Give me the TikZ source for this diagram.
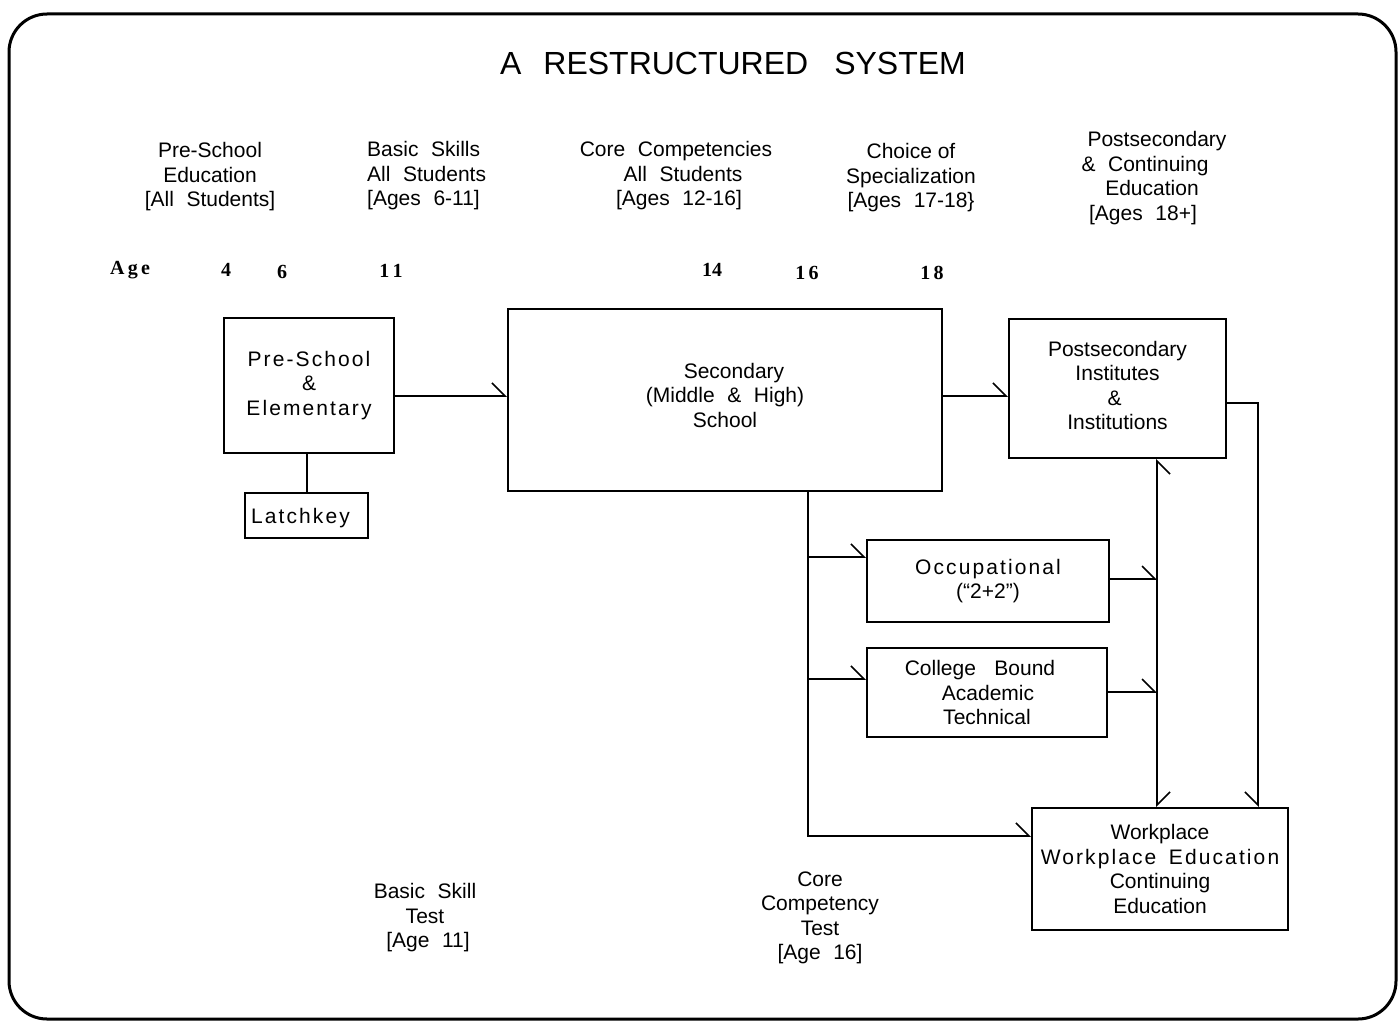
\documentclass[tikz,border=0pt]{standalone}
\usepackage{fontspec}
\setmainfont{Liberation Sans}
\newfontfamily\agefont{Liberation Serif}
\newfontfamily\spacedfont[LetterSpace=10]{Liberation Sans}
\usetikzlibrary{arrows.meta}
\newcommand\wsp{\hspace{0.6em}}
\begin{document}
\begin{tikzpicture}[x=1pt,y=-1pt,
  txt/.style={font=\fontsize{21}{24.5}\selectfont, align=center, inner sep=0pt},
  box/.style={draw, line width=2.2pt, font=\fontsize{21}{24.5}\selectfont, align=center, inner sep=0pt},
  conn/.style={line width=2pt},
  arrL/.style={conn, -{Straight Barb[harpoon,length=13pt,width=26pt,line width=1.6pt]}},
  arrR/.style={conn, -{Straight Barb[harpoon,swap,length=13pt,width=26pt,line width=1.6pt]}},
  agetxt/.style={font=\agefont\bfseries\fontsize{20}{24}\selectfont, inner sep=0pt}]
\useasboundingbox (0,0) rectangle (1399,1022);
\draw[line width=3pt, rounded corners=38pt] (9,14) rectangle (1396,1019);

% title
\node[font=\fontsize{32}{36}\selectfont, inner sep=0pt] (title) at (733,63) {A\hspace{22pt}RESTRUCTURED\hspace{26pt}SYSTEM};

% header texts
\node[txt] (hpre) at (210,177) {Pre-School\\Education\\{[}All\wsp Students]};
\node[txt, align=left, anchor=west] (hbas) at (367,176) {Basic\wsp Skills\\All\wsp Students\\{[}Ages\wsp 6-11]};
\node[txt] (hcore) at (676,176) {Core\wsp Competencies\\\hspace*{14pt}All\wsp Students\\\hspace*{6pt}{[}Ages\wsp 12-16]};
\node[txt] (hcho) at (911,178) {Choice of\\Specialization\\{[}Ages\wsp 17-18\}};
\node[txt] (hpost) at (1145,178) {\hspace*{24pt}Postsecondary\\\&\wsp Continuing\hspace*{6pt}\\\hspace*{14pt}Education\\{[}Ages\wsp 18+]\hspace*{4pt}};

% age row
\node[agetxt] (age) at (130,270) {A\,g\,e};
\node[agetxt] (a4) at (226,270) {4};
\node[agetxt] (a6) at (282,272) {6};
\node[agetxt] (a11) at (391,271) {1\,1};
\node[agetxt] (a14) at (712,270) {14};
\node[agetxt] (a16) at (807,273) {1\,6};
\node[agetxt] (a18) at (932,273) {1\,8};

% boxes
\node[box, minimum width=170, minimum height=135] (pre) at (309,385.5)
  {\rule{0pt}{8pt}{\spacedfont Pre-School}\\{\spacedfont\&}\\{\spacedfont Elementary}};
\node[box, minimum width=123, minimum height=45] (latch) at (306.5,515.5)
  {\rule{0pt}{20pt}{\spacedfont Latchkey}\hspace*{12pt}};
\node[box, minimum width=434, minimum height=182] (sec) at (725,400)
  {\hspace*{18pt}Secondary\\(Middle\wsp \&\wsp High)\\School\rule[-10pt]{0pt}{0pt}};
\node[box, minimum width=217, minimum height=139] (post) at (1117.5,388.5)
  {Postsecondary\\Institutes\\\& \hspace*{46pt}\\Institutions\rule[-6pt]{0pt}{0pt}};
\node[box, minimum width=242, minimum height=82] (occ) at (988,581)
  {{\spacedfont Occupational}\\(``2+2'')};
\node[box, minimum width=240, minimum height=89] (col) at (987,692.5)
  {College\wsp\ Bound\hspace*{14pt}\\\hspace*{2pt}Academic\\Technical};
\node[box, minimum width=256, minimum height=122] (work) at (1160,869)
  {Workplace\\{\spacedfont Workplace\wsp Education}\\Continuing\\Education};

% bottom texts
\node[txt] (bst) at (425,918) {Basic\wsp Skill\\Test\\\hspace*{6pt}{[}Age\wsp 11]};
\node[txt] (cct) at (820,918) {Core\\Competency\\Test\\{[}Age\wsp 16]};

% junction coordinates
\coordinate (jo) at (808,557);
\coordinate (jc) at (808,679);
\coordinate (vo) at (1157,579);
\coordinate (vc) at (1157,692);

% connectors
\draw[arrL] (pre.east |- 0,396) -- (sec.west |- 0,396);
\draw[arrL] (sec.east |- 0,396) -- (post.west |- 0,396);
\draw[conn] (latch.north |- pre.south) -- (latch.north);
\draw[arrL] (sec.south -| jo) |- (work.west |- 0,836);
\draw[arrL] (jo) -- (occ.west |- jo);
\draw[arrL] (jc) -- (col.west |- jc);
\draw[arrL] (occ.east |- vo) -- (vo);
\draw[arrL] (col.east |- vc) -- (vc);
\draw[arrR] (vo) -- (post.south -| vo);
\draw[arrL] (vo) -- (work.north -| vo);
\draw[arrR] (post.east |- 0,403) -| (work.north -| 1258,0);
\end{tikzpicture}
\end{document}
